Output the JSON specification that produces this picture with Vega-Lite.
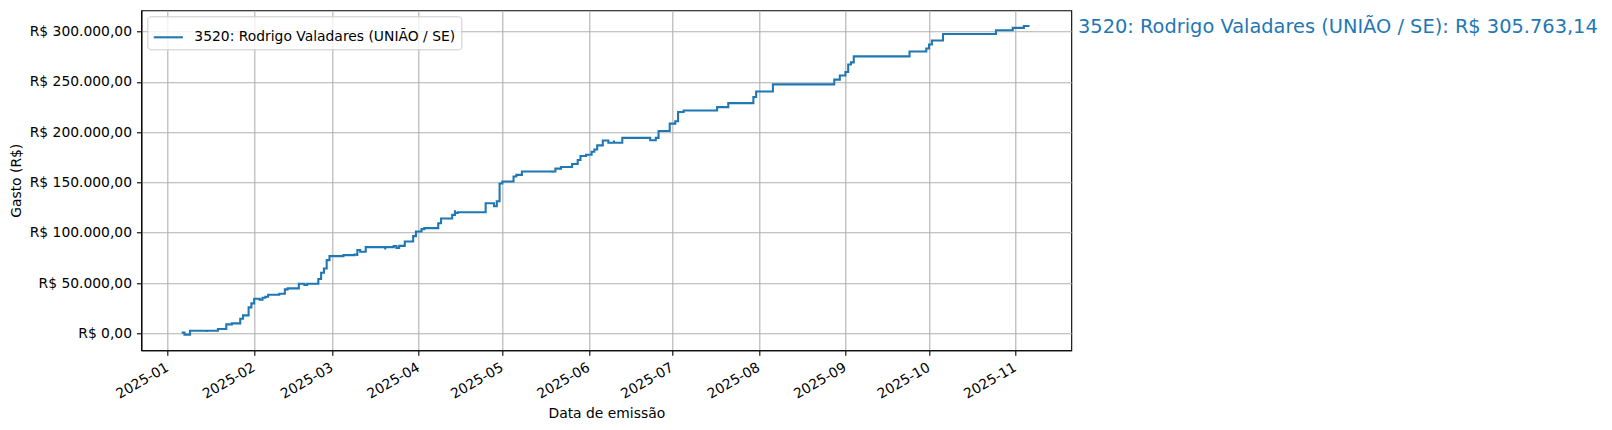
{
  "$schema": "https://vega.github.io/schema/vega-lite/v6.json",
  "width": 930,
  "height": 340,
  "autosize": {"type": "none"},
  "padding": {"left": 141.3, "top": 10.3, "right": 540.7, "bottom": 79.4},
  "background": "white",
  "config": {
    "font": "DejaVu Sans",
    "locale": {"number": {"decimal": ",", "thousands": ".", "grouping": [3], "currency": ["R$ ", ""]}},
    "view": {"stroke": "#000", "strokeWidth": 1.1},
    "axis": {
      "labelFont": "DejaVu Sans", "titleFont": "DejaVu Sans",
      "labelFontSize": 13.9, "titleFontSize": 13.9, "titleFontWeight": "normal",
      "labelColor": "#000", "titleColor": "#000",
      "tickColor": "#000", "tickSize": 4.9, "tickWidth": 1.1,
      "domainColor": "#000", "domainWidth": 1.1,
      "gridColor": "#b0b0b0", "gridWidth": 1.1, "gridOpacity": 1,
      "labelPadding": 4.9
    },
    "legend": {
      "labelFont": "DejaVu Sans", "labelFontSize": 13.9, "labelColor": "#000"
    }
  },
  "layer": [
    {
      "data": {
        "values": [
          {"data": "2025-01-06", "gasto": 660},
          {"data": "2025-01-07", "gasto": -1300},
          {"data": "2025-01-09", "gasto": 2600},
          {"data": "2025-01-15", "gasto": 1300},
          {"data": "2025-01-15", "gasto": 2600},
          {"data": "2025-01-19", "gasto": 4300},
          {"data": "2025-01-22", "gasto": 8900},
          {"data": "2025-01-24", "gasto": 9900},
          {"data": "2025-01-27", "gasto": 14500},
          {"data": "2025-01-28", "gasto": 17800},
          {"data": "2025-01-30", "gasto": 25800},
          {"data": "2025-01-31", "gasto": 29800},
          {"data": "2025-02-01", "gasto": 34400},
          {"data": "2025-02-03", "gasto": 33400},
          {"data": "2025-02-04", "gasto": 35400},
          {"data": "2025-02-05", "gasto": 36400},
          {"data": "2025-02-06", "gasto": 38400},
          {"data": "2025-02-10", "gasto": 39400},
          {"data": "2025-02-12", "gasto": 43700},
          {"data": "2025-02-13", "gasto": 44700},
          {"data": "2025-02-17", "gasto": 49300},
          {"data": "2025-02-19", "gasto": 48000},
          {"data": "2025-02-20", "gasto": 49300},
          {"data": "2025-02-24", "gasto": 54000},
          {"data": "2025-02-25", "gasto": 60200},
          {"data": "2025-02-26", "gasto": 64500},
          {"data": "2025-02-27", "gasto": 72800},
          {"data": "2025-02-28", "gasto": 76800},
          {"data": "2025-03-05", "gasto": 77800},
          {"data": "2025-03-09", "gasto": 78400},
          {"data": "2025-03-10", "gasto": 76800},
          {"data": "2025-03-10", "gasto": 82800},
          {"data": "2025-03-11", "gasto": 81100},
          {"data": "2025-03-13", "gasto": 85700},
          {"data": "2025-03-20", "gasto": 83400},
          {"data": "2025-03-20", "gasto": 85700},
          {"data": "2025-03-23", "gasto": 86700},
          {"data": "2025-03-24", "gasto": 85000},
          {"data": "2025-03-25", "gasto": 87000},
          {"data": "2025-03-27", "gasto": 91400},
          {"data": "2025-03-30", "gasto": 96700},
          {"data": "2025-03-31", "gasto": 101300},
          {"data": "2025-04-02", "gasto": 103600},
          {"data": "2025-04-03", "gasto": 104600},
          {"data": "2025-04-08", "gasto": 109500},
          {"data": "2025-04-09", "gasto": 114200},
          {"data": "2025-04-13", "gasto": 117800},
          {"data": "2025-04-14", "gasto": 122400},
          {"data": "2025-04-14", "gasto": 119700},
          {"data": "2025-04-15", "gasto": 120400},
          {"data": "2025-04-25", "gasto": 129300},
          {"data": "2025-04-28", "gasto": 126300},
          {"data": "2025-04-29", "gasto": 131300},
          {"data": "2025-04-30", "gasto": 140100},
          {"data": "2025-04-30", "gasto": 149000},
          {"data": "2025-05-01", "gasto": 151000},
          {"data": "2025-05-05", "gasto": 155900},
          {"data": "2025-05-06", "gasto": 157600},
          {"data": "2025-05-08", "gasto": 160900},
          {"data": "2025-05-19", "gasto": 159600},
          {"data": "2025-05-19", "gasto": 160900},
          {"data": "2025-05-20", "gasto": 163800},
          {"data": "2025-05-22", "gasto": 165500},
          {"data": "2025-05-26", "gasto": 168400},
          {"data": "2025-05-28", "gasto": 172400},
          {"data": "2025-05-29", "gasto": 176300},
          {"data": "2025-05-31", "gasto": 177600},
          {"data": "2025-06-02", "gasto": 180600},
          {"data": "2025-06-03", "gasto": 182900},
          {"data": "2025-06-04", "gasto": 186900},
          {"data": "2025-06-06", "gasto": 191800},
          {"data": "2025-06-08", "gasto": 189500},
          {"data": "2025-06-10", "gasto": 191800},
          {"data": "2025-06-10", "gasto": 189500},
          {"data": "2025-06-13", "gasto": 194400},
          {"data": "2025-06-23", "gasto": 192100},
          {"data": "2025-06-25", "gasto": 194400},
          {"data": "2025-06-26", "gasto": 201300},
          {"data": "2025-06-30", "gasto": 208600},
          {"data": "2025-07-02", "gasto": 210900},
          {"data": "2025-07-03", "gasto": 220100},
          {"data": "2025-07-05", "gasto": 221700},
          {"data": "2025-07-17", "gasto": 225000},
          {"data": "2025-07-21", "gasto": 229000},
          {"data": "2025-07-30", "gasto": 235000},
          {"data": "2025-07-31", "gasto": 240500},
          {"data": "2025-08-06", "gasto": 247600},
          {"data": "2025-08-28", "gasto": 252300},
          {"data": "2025-08-30", "gasto": 256400},
          {"data": "2025-09-01", "gasto": 260000},
          {"data": "2025-09-02", "gasto": 267400},
          {"data": "2025-09-03", "gasto": 269500},
          {"data": "2025-09-04", "gasto": 275500},
          {"data": "2025-09-24", "gasto": 280300},
          {"data": "2025-09-30", "gasto": 283300},
          {"data": "2025-10-01", "gasto": 287200},
          {"data": "2025-10-02", "gasto": 291200},
          {"data": "2025-10-06", "gasto": 297800},
          {"data": "2025-10-25", "gasto": 301400},
          {"data": "2025-10-31", "gasto": 303800},
          {"data": "2025-11-04", "gasto": 305763.14},
          {"data": "2025-11-06", "gasto": 305763.14}
        ]
      },
      "mark": {"type": "line", "interpolate": "step-after", "strokeWidth": 2.08, "clip": true},
      "encoding": {
        "x": {
          "field": "data", "type": "temporal",
          "scale": {"type": "utc", "nice": false, "domain": [
            {"year": 2024, "month": 12, "date": 22, "hours": 12, "minutes": 43, "utc": true},
            {"year": 2025, "month": 11, "date": 21, "utc": true}
          ]},
          "axis": {
            "title": "Data de emissão", "format": "%Y-%m",
            "tickCount": {"interval": "month", "step": 1},
            "labelAngle": -30, "labelAlign": "right", "labelBaseline": "top",
            "labelOffset": -4, "titlePadding": 5
          }
        },
        "y": {
          "field": "gasto", "type": "quantitative",
          "scale": {"domain": [-16900, 321300], "nice": false, "zero": false},
          "axis": {
            "title": "Gasto (R$)", "format": "$,.2f",
            "values": [0, 50000, 100000, 150000, 200000, 250000, 300000],
            "titlePadding": 6
          }
        },
        "color": {
          "datum": "3520: Rodrigo Valadares (UNIÃO / SE)",
          "scale": {"range": ["#1f77b4"]},
          "legend": {
            "title": null, "orient": "top-left", "offset": 6, "padding": 5,
            "fillColor": "rgba(255,255,255,0.8)", "strokeColor": "#cccccc", "cornerRadius": 3,
            "symbolType": "stroke", "symbolSize": 850, "symbolStrokeWidth": 2.08,
            "labelLimit": 500, "labelOffset": 10
          }
        }
      }
    },
    {
      "data": {"values": [{"rotulo": "3520: Rodrigo Valadares (UNIÃO / SE): R$ 305.763,14", "gasto": 305763.14}]},
      "mark": {"type": "text", "align": "left", "baseline": "middle", "dx": 6.7, "dy": 1, "fontSize": 19.4, "color": "#1f77b4", "font": "DejaVu Sans"},
      "encoding": {
        "x": {"datum": {"year": 2025, "month": 11, "date": 21, "utc": true}, "type": "temporal"},
        "y": {"field": "gasto", "type": "quantitative"},
        "text": {"field": "rotulo"}
      }
    }
  ]
}
